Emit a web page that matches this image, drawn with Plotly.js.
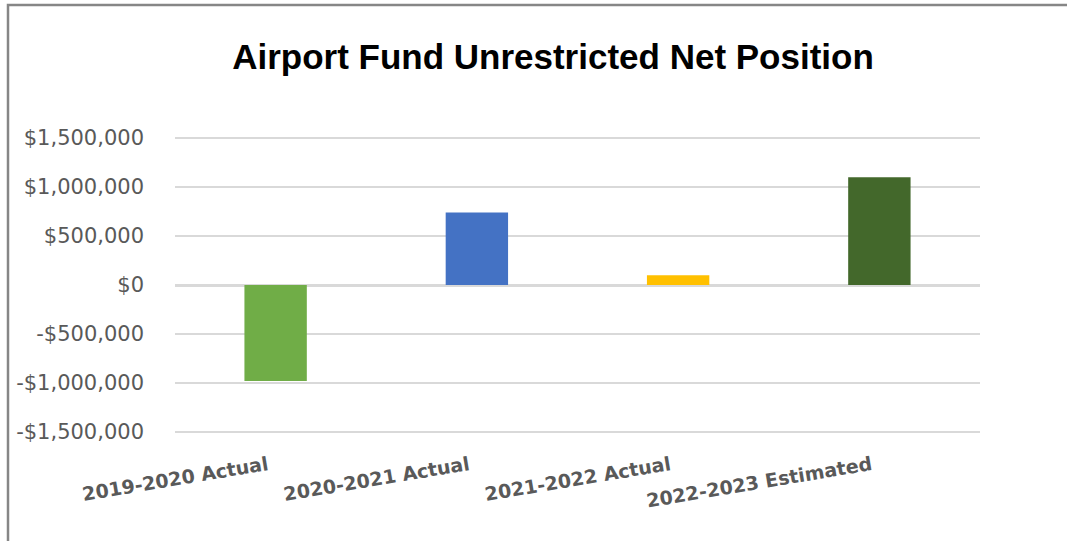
<!DOCTYPE html>
<html>
<head>
<meta charset="utf-8">
<script src="https://cdn.plot.ly/plotly-3.0.1.min.js"></script>
<style>html,body{margin:0;padding:0;background:#fff;}#chart{width:1067px;height:541px;}</style>
</head>
<body>
<div id="chart"></div>
<script>
const categories = ["2019-2020 Actual", "2020-2021 Actual", "2021-2022 Actual", "2022-2023 Estimated"];
const values = [-980000, 740000, 100000, 1100000];
const barColors = ["#70ad47", "#4472c4", "#ffc000", "#43682b"];
const tickValues = [-1500000, -1000000, -500000, 0, 500000, 1000000, 1500000];
const tickLabels = ["-$1,500,000", "-$1,000,000", "-$500,000", "$0", "$500,000", "$1,000,000", "$1,500,000"];

const trace = {
  type: "bar",
  x: categories,
  y: values,
  marker: {color: barColors},
  width: 0.31,
  hoverinfo: "x+y"
};

const layout = {
  width: 1067,
  height: 541,
  paper_bgcolor: "#ffffff",
  plot_bgcolor: "#ffffff",
  margin: {l: 175, r: 87, t: 135, b: 106},
  showlegend: false,
  title: {
    text: "<b>Airport Fund Unrestricted Net Position</b>",
    font: {family: "Liberation Sans, Arial, sans-serif", size: 35, color: "#000000"},
    x: 553 / 1067,
    xanchor: "center",
    y: 1 - 57 / 541,
    yanchor: "middle"
  },
  xaxis: {
    type: "category",
    tickangle: -9.5,
    tickfont: {family: "DejaVu Sans, sans-serif", size: 19, color: "#595959", weight: "bold"},
    showline: false,
    showgrid: false,
    zeroline: false,
    ticks: "",
    ticklabelstandoff: 15,
    ticklabelshift: -8,
    automargin: false
  },
  yaxis: {
    range: [-1530000, 1530000],
    tickmode: "array",
    tickvals: tickValues,
    ticktext: tickLabels,
    tickfont: {family: "DejaVu Sans, sans-serif", size: 21, color: "#595959"},
    showgrid: true,
    gridcolor: "#d9d9d9",
    gridwidth: 1.5,
    zeroline: true,
    zerolinecolor: "#d9d9d9",
    zerolinewidth: 3,
    showline: false,
    ticks: "",
    ticklabelstandoff: 30,
    automargin: false
  },
  shapes: [{
    type: "rect",
    xref: "paper", yref: "paper",
    x0: (8 - 175) / 805, x1: (1080 - 175) / 805,
    y0: (435 - 560) / 300, y1: (435 - 5) / 300,
    line: {color: "#868686", width: 2.5},
    fillcolor: "rgba(0,0,0,0)",
    layer: "below"
  }]
};

Plotly.newPlot("chart", [trace], layout, {displayModeBar: false, staticPlot: true});
</script>
</body>
</html>
